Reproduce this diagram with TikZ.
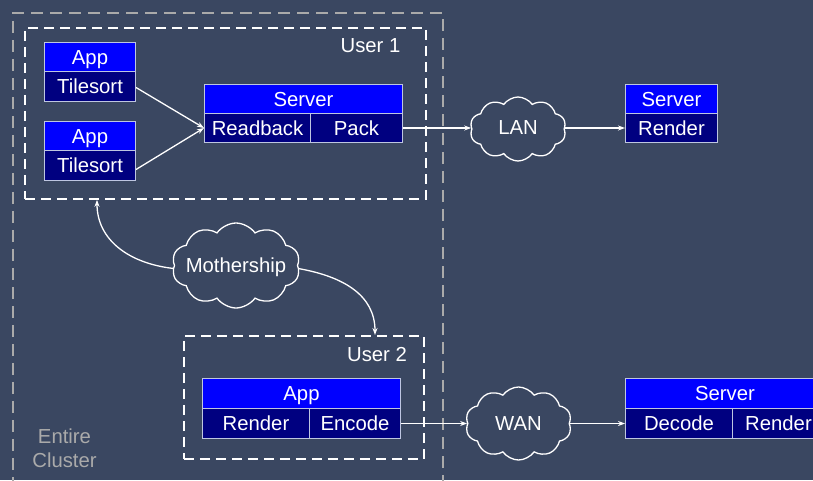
\documentclass[tikz,border=0pt]{standalone}
\usepackage{fontspec}
\setmainfont{Liberation Sans}
\usetikzlibrary{arrows.meta,shapes.symbols}
\definecolor{bg}{RGB}{58,71,97}
\definecolor{topblue}{RGB}{0,0,255}
\definecolor{botblue}{RGB}{0,0,128}
\definecolor{edgec}{RGB}{190,198,225}
\definecolor{clgray}{RGB}{170,170,170}
\tikzset{
  txt/.style={font=\fontsize{20.3}{24}\selectfont, text=white, inner sep=0pt},
  cellbox/.style={txt, draw=edgec, line width=1pt, anchor=north west, text height=14.5pt, text depth=0pt},
  topcell/.style={cellbox, fill=topblue},
  botcell/.style={cellbox, fill=botblue},
  link/.style={draw=white, line width=1.3pt, -{Stealth[length=7pt,width=5pt]}},
  usrbox/.style={draw=white, line width=1.8pt, dash pattern=on 10pt off 6pt, anchor=north west, inner sep=0pt},
  outerbox/.style={draw=clgray, line width=1.8pt, dash pattern=on 12pt off 7pt, anchor=north west, inner sep=0pt},
  cloudnode/.style={cloud, draw=white, line width=1.3pt, cloud puffs=10, cloud puff arc=110, cloud ignores aspect, inner sep=0pt},
  cloudtxt/.style={txt, text height=14.5pt, text depth=0pt},
}
\begin{document}
\begin{tikzpicture}[x=1pt,y=-1pt]
\useasboundingbox (0,0) rectangle (813,480);
\clip (0,0) rectangle (813,480);
\fill[bg] (0,0) rectangle (813,480);

% outer cluster
\node[outerbox, minimum width=430pt, minimum height=500pt] (cluster) at (12,12) {};
\node[txt, text=clgray, align=center] (clusterlbl) at (64.5,448) {Entire\\Cluster};

% user 1
\node[usrbox, minimum width=401pt, minimum height=171pt] (user1) at (24,27) {};
\node[txt] (u1lbl) at (370.5,45.5) {User 1};
\node[topcell, minimum width=91pt, minimum height=29pt] (app1) at (44,42) {App};
\node[botcell, minimum width=91pt, minimum height=30pt] (ts1) at (44,71) {Tilesort};
\node[topcell, minimum width=91pt, minimum height=29pt] (app2) at (44,121) {App};
\node[botcell, minimum width=91pt, minimum height=30pt] (ts2) at (44,150) {Tilesort};
\node[topcell, minimum width=198pt, minimum height=29pt] (srv1) at (204,84) {Server};
\node[botcell, minimum width=106pt, minimum height=29pt] (rb) at (204,113) {Readback};
\node[botcell, minimum width=92pt, minimum height=29pt] (pack) at (310,113) {Pack};

% LAN and remote server
\node[cloudnode, minimum width=96pt, minimum height=64pt] (lan) at (518,129) {};
\node[cloudtxt] (lantxt) at (518,127.5) {LAN};
\node[topcell, minimum width=92pt, minimum height=29pt] (srv2) at (625,84) {Server};
\node[botcell, minimum width=92pt, minimum height=29pt] (srender) at (625,113) {Render};

% mothership
\node[cloudnode, minimum width=128pt, minimum height=85pt] (ms) at (236,265.5) {};
\node[cloudtxt] (mstxt) at (236,265) {Mothership};

% user 2
\node[usrbox, minimum width=240pt, minimum height=123pt] (user2) at (183,335) {};
\node[txt] (u2lbl) at (377,355) {User 2};
\node[topcell, minimum width=198pt, minimum height=30pt] (app3) at (202,378) {App};
\node[botcell, minimum width=107pt, minimum height=30pt] (rend) at (202,408) {Render};
\node[botcell, minimum width=91pt, minimum height=30pt] (enc) at (309,408) {Encode};

% WAN and remote server
\node[cloudnode, minimum width=106pt, minimum height=73pt] (wan) at (518.5,423.5) {};
\node[cloudtxt] (wantxt) at (518.5,423) {WAN};
\node[topcell, minimum width=199pt, minimum height=30pt] (srv3) at (625,378) {Server};
\node[botcell, minimum width=107pt, minimum height=30pt] (dec) at (625,408) {Decode};
\node[botcell, minimum width=92pt, minimum height=30pt] (rend2) at (732,408) {Render};

% connectors
\draw[link] ([yshift=-1pt]ts1.east) -- (rb.west);
\draw[link] ([yshift=-4pt]ts2.east) -- (rb.west);
\draw[link] (pack.east) -- (pack.east -| lan.west);
\draw[link] (lan.east |- srender.west) -- (srender.west);
\draw[link] (enc.east) -- (enc.east -| wan.west);
\draw[link] (wan.east |- dec.west) -- (dec.west);
\coordinate (u1in) at ([xshift=73pt]user1.south west);
\coordinate (u2in) at ([xshift=192pt]user2.north west);
\draw[link] ([yshift=-3pt]ms.west) .. controls +(-45,-5) and +(0,40) .. (u1in);
\draw[link] ([yshift=-3pt]ms.east) .. controls +(45,8) and +(0,-40) .. (u2in);
\end{tikzpicture}
\end{document}
